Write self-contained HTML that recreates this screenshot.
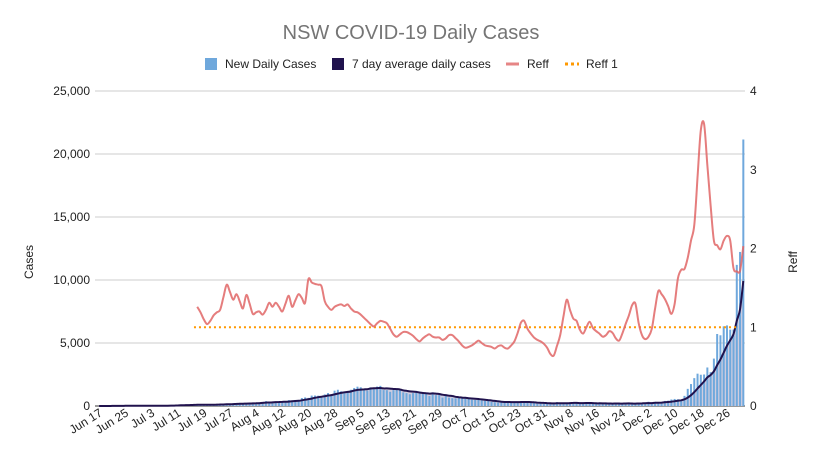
<!DOCTYPE html>
<html><head><meta charset="utf-8"><style>
body{margin:0;background:#fff;font-family:"Liberation Sans",sans-serif}
svg text{font-family:"Liberation Sans",sans-serif}
</style></head><body>
<svg id="chart" width="820" height="450" xmlns="http://www.w3.org/2000/svg">
<rect width="820" height="450" fill="#fff"/>
<text x="411" y="39" text-anchor="middle" font-size="20" fill="#757575">NSW COVID-19 Daily Cases</text>
<g font-size="12" fill="#222">
<g><rect x="205" y="58" width="12" height="12" fill="#6fa8dc"/><text x="225" y="68">New Daily Cases</text></g>
<g><rect x="332" y="58" width="12" height="12" fill="#20124d"/><text x="352" y="68">7 day average daily cases</text></g>
<g><rect x="506" y="62.5" width="13" height="3" fill="#e06666" opacity="0.8"/><text x="527" y="68">Reff</text></g>
<g><line x1="565" y1="64" x2="579" y2="64" stroke="#ff9900" stroke-width="3" stroke-dasharray="3,3"/><text x="586" y="68">Reff 1</text></g>
</g>
<text transform="translate(33,262) rotate(-90)" text-anchor="middle" font-size="12" fill="#222">Cases</text>
<text transform="translate(797,262) rotate(-90)" text-anchor="middle" font-size="12" fill="#222">Reff</text>
<g id="grid"></g><g id="area"></g><g id="bars"></g><g id="lines"></g><g id="axes"></g>
</svg>
<script>
const cases=[2,3,4,3,10,10,11,22,29,30,18,19,19,22,
24,31,35,16,27,18,27,38,44,50,77,112,89,97,65,105,111,105,98,78,110,124,136,163,141,172,145,177,239,170,210,
239,207,199,262,291,319,390,262,283,356,344,345,390,466,415,478,452,633,681,644,825,830,818,753,919,1029,882,1218,1290,1164,1116,
1116,1288,1431,1533,1485,1281,1220,1480,1405,1542,1599,1262,1257,1127,1259,1351,1331,1083,1022,935,1022,1063,1063,1043,961,787,1083,863,864,667,
813,667,623,608,667,594,587,580,496,477,496,444,406,399,319,301,265,273,283,372,345,332,296,294,282,304,293,268,177,236,176,
173,173,249,308,216,241,187,236,308,216,200,250,262,210,156,190,216,182,216,215,180,173,180,185,261,235,150,163,208,251,
271,337,250,325,208,260,403,420,516,560,536,485,804,1360,1742,2213,2566,2482,2501,3057,2688,3763,5715,5612,6324,6394,6062,6062,11201,12226,21151];
const reffStartDay=30;
const reff=[1.26,1.19,1.10,1.04,1.08,1.15,1.19,1.22,1.38,1.54,1.45,1.35,1.42,1.33,1.24,1.41,1.30,1.17,1.19,1.20,
1.16,1.22,1.31,1.26,1.31,1.26,1.20,1.30,1.40,1.26,1.34,1.42,1.37,1.31,1.61,1.57,1.55,1.54,1.52,1.33,
1.26,1.22,1.26,1.28,1.29,1.27,1.29,1.24,1.20,1.19,1.16,1.12,1.08,1.04,1.01,1.05,1.08,1.07,1.05,0.98,
0.91,0.88,0.91,0.94,0.94,0.92,0.89,0.85,0.82,0.86,0.89,0.91,0.88,0.87,0.87,0.84,0.86,0.90,0.90,0.86,
0.82,0.77,0.74,0.75,0.77,0.80,0.83,0.80,0.77,0.76,0.75,0.73,0.76,0.77,0.74,0.73,0.77,0.82,0.93,1.06,
1.08,0.98,0.92,0.87,0.84,0.82,0.79,0.74,0.66,0.64,0.76,0.90,1.14,1.35,1.22,1.11,1.08,0.97,0.92,1.00,
1.07,0.99,0.95,0.92,0.88,0.90,0.95,0.93,0.86,0.83,0.92,1.04,1.15,1.28,1.30,1.05,0.90,0.85,0.88,0.98,
1.23,1.46,1.42,1.36,1.27,1.17,1.30,1.62,1.73,1.74,1.88,2.10,2.30,2.90,3.50,3.58,3.05,2.55,2.10,2.04,
1.99,2.10,2.16,2.10,1.75,1.71,1.72,2.03];
const reffLineStart=29, reffLineEnd=195, reffLineValue=1;
const leftTicks=[0,5000,10000,15000,20000,25000];
const leftTickLabels=["0","5,000","10,000","15,000","20,000","25,000"];
const rightTicks=[0,1,2,3,4];
const monthNames=["Jun","Jul","Aug","Sep","Oct","Nov","Dec"];
const monthStarts=[17,1,1,1,1,1,1];
const monthLens=[30,31,31,30,31,30,31];

const NS="http://www.w3.org/2000/svg";
const X0=97.5, BW=3.27, Y0=406, YT=91;
const xC=d=>X0+(d+0.5)*BW;
const yL=v=>Y0-(v/25000)*(Y0-YT);
const yR=v=>Y0-(v/4)*(Y0-YT);
function mk(tag,attrs,parent){const e=document.createElementNS(NS,tag);for(const k in attrs)e.setAttribute(k,attrs[k]);parent.appendChild(e);return e;}
function smooth(p){let d=`M${p[0][0].toFixed(1)},${p[0][1].toFixed(1)}`;for(let i=0;i<p.length-1;i++){const a=p[i-1]||p[i],b=p[i],c=p[i+1],e=p[i+2]||c;const c1=[b[0]+(c[0]-a[0])/6,b[1]+(c[1]-a[1])/6],c2=[c[0]-(e[0]-b[0])/6,c[1]-(e[1]-b[1])/6];d+=`C${c1[0].toFixed(1)},${c1[1].toFixed(1)} ${c2[0].toFixed(1)},${c2[1].toFixed(1)} ${c[0].toFixed(1)},${c[1].toFixed(1)}`;}return d;}
const grid=document.getElementById('grid'),area=document.getElementById('area'),bars=document.getElementById('bars'),lines=document.getElementById('lines'),axes=document.getElementById('axes');

leftTicks.forEach((t,i)=>{
 const g=mk('line',{x1:95,x2:745,y1:yL(t),y2:yL(t),stroke:i===0?'#333':'#cccccc','stroke-width':1},grid);
 
 
 const tx=mk('text',{x:90,y:yL(t)+4,'text-anchor':'end','font-size':12,fill:'#222'},axes);
 tx.textContent=leftTickLabels[i];
 
 
});
rightTicks.forEach(t=>{
 const tx=mk('text',{x:750,y:yR(t)+4,'font-size':12,fill:'#222'},axes);
 tx.textContent=String(t);
 
 
});
const dates=[];
monthNames.forEach((m,i)=>{for(let d=monthStarts[i];d<=monthLens[i];d++)dates.push(m+" "+d);});
for(let d=0;d<dates.length;d+=8){
 const x=xC(d)+4;
 const tx=mk('text',{x:x,y:415,'text-anchor':'end','font-size':12,fill:'#222',transform:`rotate(-32 ${x} 415)`},axes);
 tx.textContent=dates[d];
 
 
}
const avg=cases.map((c,i)=>{const s=cases.slice(Math.max(0,i-6),i+1);return s.reduce((a,b)=>a+b,0)/s.length;});
const avgPts=avg.map((v,i)=>[xC(i),yL(v)]);
const ar=mk('path',{d:smooth(avgPts)+`L${xC(avg.length-1)},${Y0}L${xC(0)},${Y0}Z`,fill:'#cfcde0'},area);


cases.forEach((c,i)=>{
 const b=mk('rect',{x:xC(i)-1,y:yL(c),width:2,height:Y0-yL(c),fill:'#6fa8dc'},bars);
 
 
});
const al=mk('path',{d:smooth(avgPts),fill:'none',stroke:'#20124d','stroke-width':2},lines);


const r1=mk('line',{x1:xC(reffLineStart),x2:xC(reffLineEnd),y1:yR(reffLineValue),y2:yR(reffLineValue),stroke:'#ff9900','stroke-width':2,'stroke-dasharray':'2,3'},lines);


const reffPts=reff.map((v,i)=>[xC(reffStartDay+i),yR(v)]);
const rl=mk('path',{d:smooth(reffPts),fill:'none',stroke:'#e06666','stroke-width':2,opacity:0.85,'stroke-linejoin':'round'},lines);


</script>
</body></html>
